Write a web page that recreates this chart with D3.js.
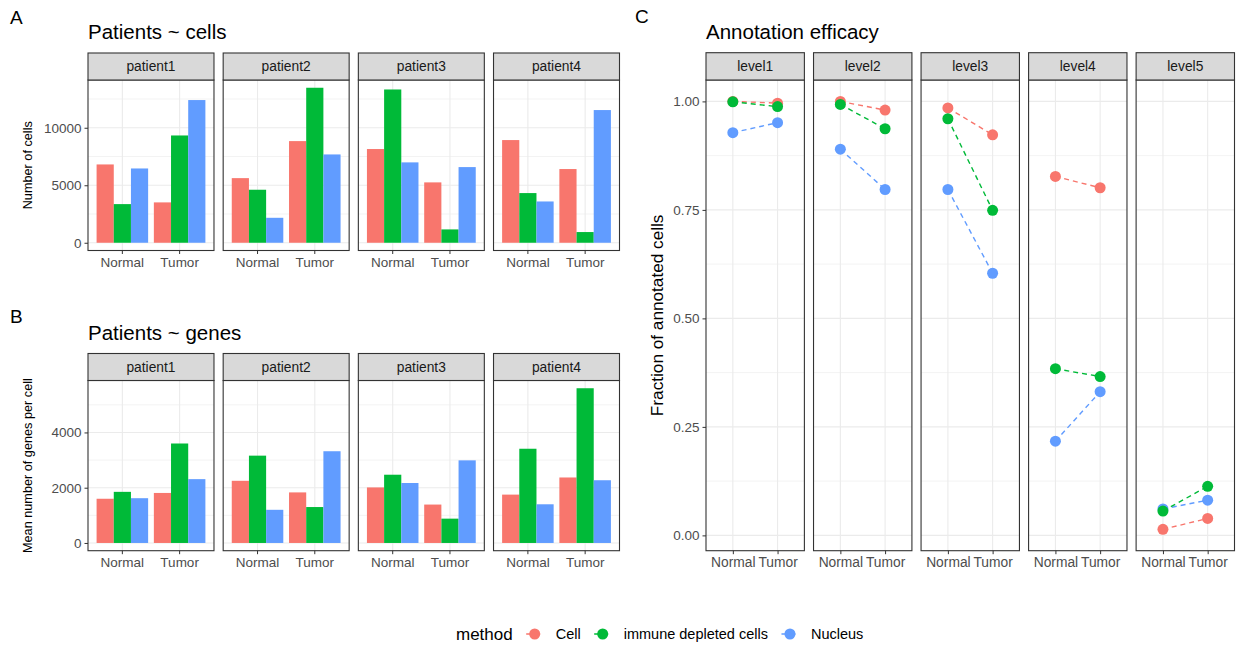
<!DOCTYPE html>
<html>
<head>
<meta charset="utf-8">
<title>Patients / annotation efficacy</title>
<script src="https://cdn.jsdelivr.net/npm/d3@7"></script>
<style>
  body { margin: 0; background: #fff; }
  svg { display: block; font-family: "Liberation Sans", Arial, sans-serif; }
  .tick line { stroke: #333; }
  .tick text { fill: #4d4d4d; }
</style>
</head>
<body>
<svg id="chart" width="1236" height="646"></svg>
<script>
// ---- data ----
const patients = ["patient1", "patient2", "patient3", "patient4"];
const conditions = ["Normal", "Tumor"];
const methods = ["Cell", "immune depleted cells", "Nucleus"];
const levels = ["level1", "level2", "level3", "level4", "level5"];

// number of cells, [patient][Normal, Tumor]
const cellsCell    = [[6810, 3510], [5620, 8840], [8150, 5250], [8930, 6410]];
const cellsImmune  = [[3360, 9330], [4610, 13480], [13330, 1160], [4320, 930]];
const cellsNucleus = [[6460, 12410], [2170, 7680], [6990, 6580], [3590, 11540]];

// mean genes per cell, [patient][Normal, Tumor]
const genesCell    = [[1600, 1810], [2250, 1830], [2010, 1390], [1750, 2370]];
const genesImmune  = [[1850, 3600], [3160, 1300], [2470, 880], [3410, 5600]];
const genesNucleus = [[1620, 2310], [1200, 3320], [2170, 2990], [1400, 2270]];

// fraction annotated, [level][Normal, Tumor]
const annoCell    = [[1.000, 0.996], [1.000, 0.980], [0.985, 0.923], [0.827, 0.801], [0.014, 0.039]];
const annoImmune  = [[0.999, 0.988], [0.993, 0.937], [0.960, 0.749], [0.384, 0.366], [0.056, 0.113]];
const annoNucleus = [[0.928, 0.951], [0.890, 0.797], [0.797, 0.604], [0.217, 0.331], [0.061, 0.081]];

const cellTicks = [0, 5000, 10000], cellMinor = [2500, 7500, 12500];
const geneTicks = [0, 2000, 4000], geneMinor = [1000, 3000, 5000];
const annoTicks = [0, 0.25, 0.5, 0.75, 1], annoMinor = [0.125, 0.375, 0.625, 0.875];

const colors = d3.scaleOrdinal().domain(methods).range(["#F8766D", "#00BA38", "#619CFF"]);

const svg = d3.select("#chart");
const FONT_TICK = 13.5, FONT_STRIP = 13.8;

// expand like ggplot (5% of data range)
function expand(lo, hi) {
  const r = hi - lo;
  return [lo - r * 0.05, hi + r * 0.05];
}

function panelFrame(g, w, top, bottom, y, major, minor, xs) {
  g.selectAll(".gmin").data(minor.filter(v => y(v) > top && y(v) < bottom)).join("line")
    .attr("x1", 0).attr("x2", w).attr("y1", d => y(d)).attr("y2", d => y(d))
    .attr("stroke", "#ebebeb").attr("stroke-width", 0.6);
  g.selectAll(".gmaj").data(major).join("line")
    .attr("x1", 0).attr("x2", w).attr("y1", d => y(d)).attr("y2", d => y(d))
    .attr("stroke", "#ebebeb").attr("stroke-width", 1.1);
  g.selectAll(".gx").data(xs).join("line")
    .attr("x1", d => d).attr("x2", d => d).attr("y1", top).attr("y2", bottom)
    .attr("stroke", "#ebebeb").attr("stroke-width", 1.1);
}

function strip(g, w, top, h, label) {
  g.append("rect").attr("x", 0).attr("y", top).attr("width", w).attr("height", h)
    .attr("fill", "#d9d9d9").attr("stroke", "#333").attr("stroke-width", 1.1);
  g.append("text").attr("x", w / 2).attr("y", top + h / 2).attr("dy", "0.36em")
    .attr("text-anchor", "middle").attr("font-size", FONT_STRIP).attr("fill", "#1a1a1a")
    .text(label);
}

function border(g, w, top, bottom) {
  g.append("rect").attr("x", 0).attr("y", top).attr("width", w).attr("height", bottom - top)
    .attr("fill", "none").attr("stroke", "#333").attr("stroke-width", 1.1);
}

function styleAxis(ax) {
  ax.select(".domain").remove();
  ax.selectAll("text").attr("font-size", FONT_TICK).attr("fill", "#4d4d4d");
  ax.selectAll("line").attr("stroke", "#333");
}

// ---- bar facets (A and B) ----
function barFacets(o) {
  const facet = d3.scaleBand().domain(patients).range([88, 619.5]).paddingInner(0.068);
  const w = facet.bandwidth();
  const y = d3.scaleLinear().domain(expand(0, d3.max(o.series.flat(2)))).range([o.bottom, o.top]);
  const x = d3.scaleBand().domain(conditions).range([0, w]).paddingInner(0.1).paddingOuter(0.15);
  const xm = d3.scaleBand().domain(methods).range([0, x.bandwidth()]);

  svg.append("text").attr("x", 10).attr("y", o.letterY).attr("font-size", 19).text(o.letter);
  svg.append("text").attr("x", 88).attr("y", o.titleY).attr("font-size", 20.5).text(o.title);
  svg.append("text")
    .attr("transform", `translate(${o.yTitleX},${(o.top + o.bottom) / 2}) rotate(-90)`)
    .attr("text-anchor", "middle").attr("font-size", 12.7).text(o.yTitle);

  patients.forEach((p, i) => {
    const g = svg.append("g").attr("transform", `translate(${facet(p)},0)`);
    panelFrame(g, w, o.top, o.bottom, y, o.ticks, o.minor, conditions.map(c => x(c) + x.bandwidth() / 2));
    conditions.forEach((c, j) => {
      methods.forEach((m, k) => {
        const v = o.series[k][i][j];
        g.append("rect")
          .attr("x", x(c) + xm(m)).attr("width", xm.bandwidth())
          .attr("y", y(v)).attr("height", y(0) - y(v))
          .attr("fill", colors(m));
      });
    });
    border(g, w, o.top, o.bottom);
    strip(g, w, o.stripTop, o.top - o.stripTop, p);
    const ax = g.append("g").attr("transform", `translate(0,${o.bottom})`)
      .call(d3.axisBottom(x).tickSize(3.5).tickPadding(3));
    styleAxis(ax);
    if (i === 0) {
      const ay = g.append("g").call(d3.axisLeft(y).tickValues(o.ticks).tickFormat(d3.format("d")).tickSize(3.5).tickPadding(3));
      styleAxis(ay);
    }
  });
}

barFacets({
  letter: "A", letterY: 24, title: "Patients ~ cells", titleY: 39,
  stripTop: 53, top: 80, bottom: 250.5, yTitle: "Number of cells", yTitleX: 32,
  series: [cellsCell, cellsImmune, cellsNucleus], ticks: cellTicks, minor: cellMinor
});

barFacets({
  letter: "B", letterY: 323, title: "Patients ~ genes", titleY: 340,
  stripTop: 353.5, top: 380.5, bottom: 550.7, yTitle: "Mean number of genes per cell", yTitleX: 32,
  series: [genesCell, genesImmune, genesNucleus], ticks: geneTicks, minor: geneMinor
});

// ---- annotation efficacy (C) ----
(function () {
  const top = 80, bottom = 550.7, stripTop = 52.7;
  const facet = d3.scaleBand().domain(levels).range([706, 1234.5]).paddingInner(0.085);
  const w = facet.bandwidth();
  const all = [annoCell, annoImmune, annoNucleus].flat(2);
  const y = d3.scaleLinear().domain(expand(d3.min(all), d3.max(all))).range([bottom, top]);
  const x = d3.scalePoint().domain(conditions).range([0, w]).padding(0.6);
  const series = { "Cell": annoCell, "immune depleted cells": annoImmune, "Nucleus": annoNucleus };
  const drawOrder = ["Cell", "Nucleus", "immune depleted cells"];

  svg.append("text").attr("x", 635).attr("y", 23).attr("font-size", 19).text("C");
  svg.append("text").attr("x", 706).attr("y", 39).attr("font-size", 20.5).text("Annotation efficacy");
  svg.append("text")
    .attr("transform", `translate(663,${(top + bottom) / 2}) rotate(-90)`)
    .attr("text-anchor", "middle").attr("font-size", 17.2).text("Fraction of annotated cells");

  const line = d3.line().x((d, j) => x(conditions[j])).y(d => y(d));

  levels.forEach((lv, i) => {
    const g = svg.append("g").attr("transform", `translate(${facet(lv)},0)`);
    panelFrame(g, w, top, bottom, y, annoTicks, annoMinor, conditions.map(c => x(c)));
    drawOrder.forEach(m => {
      g.append("path").attr("d", line(series[m][i]))
        .attr("fill", "none").attr("stroke", colors(m)).attr("stroke-width", 1.4)
        .attr("stroke-dasharray", "5,4");
    });
    drawOrder.forEach(m => {
      g.selectAll(null).data(series[m][i]).join("circle")
        .attr("cx", (d, j) => x(conditions[j])).attr("cy", d => y(d))
        .attr("r", 5.5).attr("fill", colors(m));
    });
    border(g, w, top, bottom);
    strip(g, w, stripTop, top - stripTop, lv);
    const ax = g.append("g").attr("transform", `translate(0,${bottom})`)
      .call(d3.axisBottom(x).tickSize(3.5).tickPadding(3));
    styleAxis(ax);
    ax.selectAll("text").attr("font-size", 13.8);
    if (i === 0) {
      const ay = g.append("g").call(d3.axisLeft(y).tickValues(annoTicks).tickFormat(d3.format(".2f")).tickSize(3.5).tickPadding(3));
      styleAxis(ay);
    }
  });

  // legend
  const lg = svg.append("g").attr("transform", "translate(0,634)");
  const title = lg.append("text").attr("x", 456).attr("dy", "0.35em").attr("font-size", 17).text("method");
  let cx = 456 + title.node().getComputedTextLength();
  methods.forEach(m => {
    const kc = cx + 22;
    lg.append("line").attr("x1", kc - 8.5).attr("x2", kc + 8.5)
      .attr("stroke", colors(m)).attr("stroke-width", 1.4).attr("stroke-dasharray", "5,4")
      .attr("stroke-dashoffset", 0);
    lg.append("circle").attr("cx", kc).attr("r", 5.5).attr("fill", colors(m));
    const t = lg.append("text").attr("x", kc + 21).attr("dy", "0.35em").attr("font-size", 14.5).text(m);
    cx = kc + 21 + t.node().getComputedTextLength();
  });
})();
</script>
</body>
</html>
